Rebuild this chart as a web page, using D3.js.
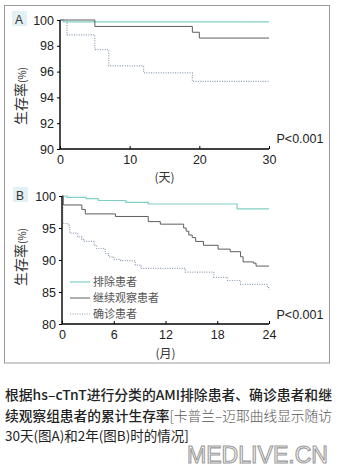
<!DOCTYPE html>
<html><head><meta charset="utf-8">
<script src="https://cdn.jsdelivr.net/npm/d3@7"></script>
<style>
html,body{margin:0;padding:0;background:#fff;}
svg{display:block;}
text{font-family:"Liberation Sans",Arial,"Noto Sans CJK SC",sans-serif;}
.cjk{font-family:"Noto Sans CJK SC",sans-serif;}
</style></head>
<body>
<script>
// ---------- data ----------
const seriesNames = ["排除患者", "继续观察患者", "确诊患者"];
const ticksA_x = [0, 10, 20, 30];
const ticksA_y = [90, 92, 94, 96, 98, 100];
const ticksB_x = [0, 6, 12, 18, 24];
const ticksB_y = [80, 85, 90, 95, 100];

// Panel A (days)
const exclA_t = [0, 0.5, 30];
const exclA_v = [100, 99.85, 99.85];
const followA_t = [0, 5, 19, 20, 30];
const followA_v = [100, 99.5, 99.05, 98.6, 98.6];
const confA_t = [0, 1, 5, 7, 12, 19, 30];
const confA_v = [100, 98.85, 97.7, 96.45, 95.9, 95.25, 95.25];

// Panel B (months)
const exclB_t = [0, 0.6, 2.8, 4.2, 7.4, 10, 20.3, 24];
const exclB_v = [100, 99.8, 99.6, 99.3, 99.0, 98.75, 98.0, 98.0];
const followB_t = [0, 0.15, 2.3, 2.7, 6.2, 10, 11.4, 14.1, 14.4, 14.7, 15.1, 15.5, 16.4, 18.1, 19.5, 20.7, 21.0, 22.2, 22.5, 24];
const followB_v = [100, 98.6, 97.9, 97.2, 96.8, 96.0, 95.6, 95.0, 94.5, 93.9, 93.5, 92.9, 92.3, 91.7, 91.3, 90.5, 89.7, 89.5, 89.05, 89.05];
const confB_t = [0, 0.1, 0.7, 0.9, 1.8, 2.3, 2.5, 3.7, 4.0, 5.0, 5.4, 6.0, 6.8, 8.5, 9.2, 14.3, 17.6, 19.2, 20.7, 23.8, 24];
const confB_v = [100, 95.7, 95.4, 94.2, 93.6, 93.2, 92.9, 92.3, 91.8, 91.0, 90.5, 90.1, 89.9, 89.2, 88.7, 88.1, 87.3, 86.8, 86.2, 85.7, 85.4];

const captionLines = [
  ["根据hs–cTnT进行分类的AMI排除患者、确诊患者和继", ""],
  ["续观察组患者的累计生存率", "[卡普兰–迈耶曲线显示随访"],
  ["30天(图A)和2年(图B)时的情况]", ""]
];
const watermark = "MEDLIVE.CN";

// ---------- styles ----------
const colors = ["#7fcfc8", "#5e5e5e", "#8e9cb2"];
const dashes = [null, null, "1,1.4"];
const widths = [1.2, 1.0, 1.2];

const W = 339, H = 476;
const svg = d3.select("body").append("svg").attr("width", W).attr("height", H);

// outer frame
svg.append("rect").attr("x", 4.5).attr("y", 5.5).attr("width", 325).attr("height", 357.5)
  .attr("fill", "none").attr("stroke", "#9a9a9a").attr("stroke-width", 1);

function zip(t, v) { return t.map((d, i) => [d, v[i]]); }

function panel(opt) {
  const x = d3.scaleLinear().domain(opt.xdom).range([opt.x0, opt.x1]);
  const y = d3.scaleLinear().domain(opt.ydom).range([opt.y1, opt.y0]);
  const g = svg.append("g");

  const line = d3.line().x(d => x(d[0])).y(d => y(d[1])).curve(d3.curveStepAfter);
  opt.series.forEach((s, i) => {
    const p = g.append("path").attr("d", line(s)).attr("fill", "none")
      .attr("stroke", colors[i]).attr("stroke-width", widths[i]);
    if (dashes[i]) p.attr("stroke-dasharray", dashes[i]);
  });

  const ay = g.append("g").attr("transform", `translate(${opt.x0},0)`)
    .call(d3.axisLeft(y).tickValues(opt.yticks).tickSize(3).tickPadding(3));
  const ax = g.append("g").attr("transform", `translate(0,${opt.y1})`)
    .call(d3.axisBottom(x).tickValues(opt.xticks).tickSize(-3).tickPadding(6));
  [ax, ay].forEach(a => {
    a.select(".domain").attr("stroke", "#000").attr("stroke-width", 1.4);
    a.selectAll(".tick line").attr("stroke", "#000").attr("stroke-width", 1);
    a.selectAll(".tick text").attr("font-size", 12.5).attr("fill", "#222")
      .attr("font-family", "'Liberation Sans',Arial,sans-serif");
  });
  ay.select(".domain").attr("d", `M0,${opt.y0}V${opt.y1}`);
  ax.select(".domain").attr("d", `M${opt.x0},0H${opt.x1}`);
  ax.selectAll(".tick line").attr("y1", 0).attr("y2", -3);

  g.append("rect").attr("x", opt.lx - 7).attr("y", opt.ly - 8).attr("width", 15).attr("height", 15)
    .attr("fill", "#e3f1f6");
  g.append("text").attr("x", opt.lx).attr("y", opt.ly + 4.5).attr("text-anchor", "middle")
    .attr("font-size", 12).attr("fill", "#333").text(opt.letter);

  const yl = g.append("text").attr("class", "cjk")
    .attr("transform", `translate(26,${opt.ylc}) rotate(-90)`)
    .attr("text-anchor", "middle").attr("font-size", 14).attr("fill", "#333");
  yl.append("tspan").text("生存率");
  yl.append("tspan").attr("font-size", 10).text("(%)");

  g.append("text").attr("class", "cjk").attr("x", (opt.x0 + opt.x1) / 2).attr("y", opt.xly)
    .attr("text-anchor", "middle").attr("font-size", 12).attr("fill", "#333").text(opt.xlabel);

  g.append("text").attr("x", 300).attr("y", opt.py).attr("text-anchor", "middle")
    .attr("font-size", 12.5).attr("fill", "#222").text("P<0.001");
  return { x, y, g };
}

panel({
  xdom: [0, 30], ydom: [90, 100], x0: 60, x1: 269, y0: 20, y1: 149,
  xticks: ticksA_x, yticks: ticksA_y,
  series: [zip(exclA_t, exclA_v), zip(followA_t, followA_v), zip(confA_t, confA_v)],
  letter: "A", lx: 19, ly: 19, ylc: 96, xlabel: "(天)", xly: 182, py: 143
});

panel({
  xdom: [0, 24], ydom: [80, 100], x0: 62, x1: 269, y0: 196, y1: 324,
  xticks: ticksB_x, yticks: ticksB_y,
  series: [zip(exclB_t, exclB_v), zip(followB_t, followB_v), zip(confB_t, confB_v)],
  letter: "B", lx: 20, ly: 195, ylc: 257, xlabel: "(月)", xly: 358, py: 319
});

// legend in B
const legY = [282, 298, 314];
seriesNames.forEach((n, i) => {
  const l = svg.append("line").attr("x1", 70).attr("x2", 90).attr("y1", legY[i]).attr("y2", legY[i])
    .attr("stroke", colors[i]).attr("stroke-width", widths[i]);
  if (dashes[i]) l.attr("stroke-dasharray", dashes[i]);
  svg.append("text").attr("class", "cjk").attr("x", 93).attr("y", legY[i] + 4)
    .attr("font-size", 11).attr("fill", "#555").text(n);
});

// caption
const capY = [400, 421, 441];
const capW = [500, 500, 400];
captionLines.forEach((parts, i) => {
  const t = svg.append("text").attr("class", "cjk").attr("x", 5).attr("y", capY[i])
    .attr("font-size", 13.5).attr("fill", "#222");
  t.append("tspan").attr("font-weight", capW[i]).text(parts[0]);
  if (parts[1]) t.append("tspan").attr("fill", "#555").attr("font-weight", 300).text(parts[1]);
  if (i < 2) t.attr("textLength", 327).attr("lengthAdjust", "spacingAndGlyphs");
});

// watermark
svg.append("text").attr("x", 187).attr("y", 463).attr("font-size", 24)
  .attr("font-family", "'Liberation Sans',Arial,sans-serif")
  .attr("textLength", 141).attr("lengthAdjust", "spacingAndGlyphs")
  .attr("fill", "#fff").attr("stroke", "#999").attr("stroke-width", 1.1).text(watermark);
</script>
</body></html>
